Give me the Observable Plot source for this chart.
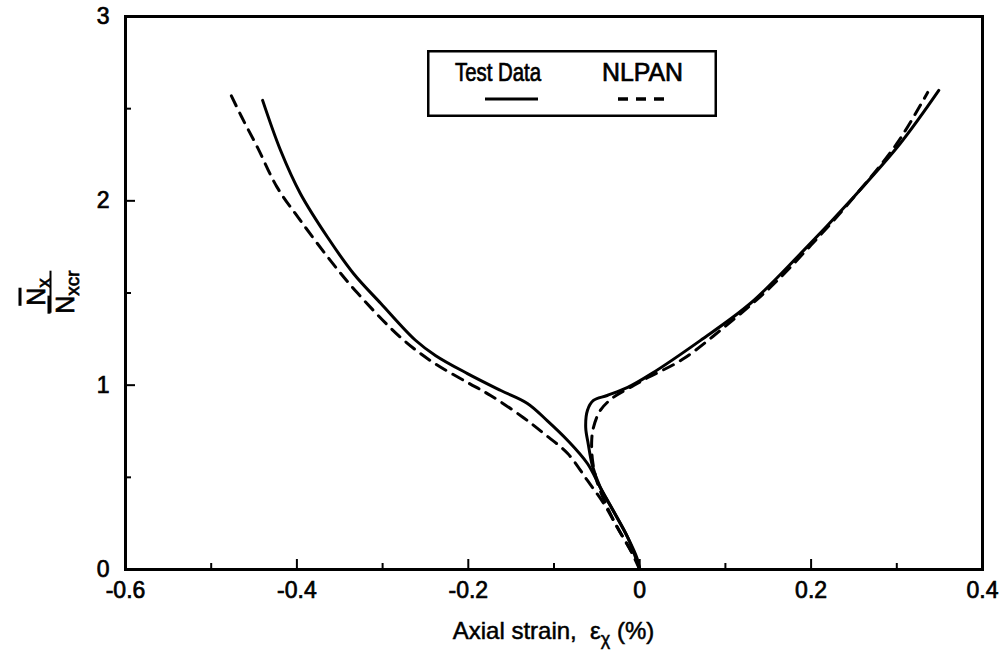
<!DOCTYPE html>
<html>
<head>
<meta charset="utf-8">
<script src="https://cdn.jsdelivr.net/npm/d3@7"></script>
<script src="https://cdn.jsdelivr.net/npm/@observablehq/plot@0.6"></script>
<style>
  body { margin: 0; background: #fff; }
  #wrap { position: relative; width: 1001px; height: 653px; font-family: "Liberation Sans", Arial, Helvetica, sans-serif; color: #000; }
  #wrap svg { display: block; }
  #wrap svg text { stroke: #000; stroke-width: 0.7px; paint-order: stroke; }
  .xlabel { position: absolute; left: 125px; width: 857px; top: 617px; text-align: center; font-size: 24px; line-height: 28px; white-space: nowrap; -webkit-text-stroke: 0.5px #000; }
  .xlabel sub { font-size: 18px; vertical-align: -6px; line-height: 0; }
  .ylabel { position: absolute; left: 50px; top: 292px; transform: translate(-50%, -50%) rotate(-90deg); font-size: 25px; line-height: 24px; -webkit-text-stroke: 0.7px #000; }
  .frac { display: inline-flex; flex-direction: column; align-items: center; }
  .frac .bar { width: 42px; border-top: 2.5px solid #000; margin: 2px 0 1px 0; }
  .ov { text-decoration: overline; text-decoration-thickness: 2.5px; }
  .ylabel sub { font-size: 19px; vertical-align: -5px; line-height: 0; }
  .legend { position: absolute; left: 427px; top: 50px; }
</style>
</head>
<body>
<div id="wrap"></div>
<script>
// ---- data ----
const testLeftX  = [0, -0.003, -0.014, -0.031, -0.046, -0.061, -0.084, -0.108, -0.131, -0.162, -0.201, -0.238, -0.262, -0.302, -0.334, -0.364, -0.396, -0.419, -0.440];
const testLeftY  = [0, 0.06, 0.174, 0.32, 0.445, 0.575, 0.70, 0.808, 0.901, 0.971, 1.063, 1.16, 1.245, 1.443, 1.606, 1.801, 2.040, 2.273, 2.545];
const testRightX = [0, -0.014, -0.031, -0.046, -0.055, -0.060, -0.063, -0.061, -0.054, -0.038, -0.014, 0.013, 0.071, 0.129, 0.188, 0.246, 0.304, 0.349];
const testRightY = [0, 0.174, 0.32, 0.445, 0.56, 0.68, 0.77, 0.863, 0.917, 0.944, 0.988, 1.06, 1.243, 1.443, 1.715, 2.002, 2.311, 2.599];
const nlpanLeftX  = [0, -0.002, -0.0105, -0.026, -0.042, -0.061, -0.084, -0.112, -0.136, -0.174, -0.201, -0.241, -0.279, -0.329, -0.361, -0.396, -0.423, -0.446, -0.465, -0.478];
const nlpanLeftY  = [0, 0.033, 0.103, 0.228, 0.358, 0.483, 0.629, 0.738, 0.825, 0.944, 1.015, 1.123, 1.259, 1.498, 1.677, 1.894, 2.073, 2.290, 2.46, 2.585];
const nlpanRightX = [0, -0.0105, -0.026, -0.040, -0.050, -0.055, -0.056, -0.054, -0.046, -0.031, -0.007, 0.009, 0.05, 0.10, 0.15, 0.20, 0.25, 0.30, 0.336];
const nlpanRightY = [0, 0.103, 0.228, 0.36, 0.48, 0.59, 0.70, 0.77, 0.863, 0.933, 0.998, 1.04, 1.14, 1.32, 1.52, 1.76, 2.02, 2.31, 2.588];

const xMajorTicks = [-0.6, -0.4, -0.2, 0, 0.2, 0.4];
const xMinorTicks = [-0.5, -0.3, -0.1, 0.1, 0.3];
const xTickLabels = ["-0.6", "-0.4", "-0.2", "0", "0.2", "0.4"];
const yMajorTicks = [0, 1, 2, 3];
const yMinorTicks = [0.5, 1.5, 2.5];
const yTickLabels = ["0", "1", "2", "3"];
const seriesNames = ["Test Data", "NLPAN"];

// ---- build table ----
const rows = [];
function add(series, branch, xs, ys) { xs.forEach((x, i) => rows.push({series, branch, x, y: ys[i]})); }
add(seriesNames[0], "left", testLeftX, testLeftY);
add(seriesNames[0], "right", testRightX, testRightY);
add(seriesNames[1], "left", nlpanLeftX, nlpanLeftY);
add(seriesNames[1], "right", nlpanRightX, nlpanRightY);

const font = "Liberation Sans, Arial, Helvetica, sans-serif";
const xFmt = d => xTickLabels[xMajorTicks.indexOf(d)];
const yFmt = d => yTickLabels[yMajorTicks.indexOf(d)];

const W = 1001, H = 653, mL = 125, mR = 19, mT = 16, mB = 84;
const innerW = W - mL - mR, innerH = H - mT - mB;
const majorLen = 10, minorLen = 6;

const plot = Plot.plot({
  width: W, height: H,
  marginLeft: mL, marginRight: mR, marginTop: mT, marginBottom: mB,
  style: {fontFamily: font, fontSize: "23px", color: "#000", background: "#fff"},
  x: {domain: [-0.6, 0.4], label: null},
  y: {domain: [0, 3], label: null},
  marks: [
    Plot.axisX(xMajorTicks, {tickSize: 0, tickPadding: 12, tickFormat: xFmt, fontSize: 23, label: null}),
    Plot.axisY(yMajorTicks, {tickSize: 0, tickPadding: 16, tickFormat: yFmt, fontSize: 23, label: null}),
    // inward tick marks
    Plot.tickX(xMajorTicks, {x: d => d, insetTop: innerH - majorLen, stroke: "#000", strokeWidth: 2}),
    Plot.tickX(xMinorTicks, {x: d => d, insetTop: innerH - minorLen, stroke: "#000", strokeWidth: 2}),
    Plot.tickY(yMajorTicks, {y: d => d, insetRight: innerW - majorLen, stroke: "#000", strokeWidth: 2}),
    Plot.tickY(yMinorTicks, {y: d => d, insetRight: innerW - minorLen, stroke: "#000", strokeWidth: 2}),
    Plot.line(rows.filter(d => d.series === seriesNames[0]), {x: "x", y: "y", z: "branch", curve: "catmull-rom", stroke: "#000", strokeWidth: 3}),
    Plot.line(rows.filter(d => d.series === seriesNames[1]), {x: "x", y: "y", z: "branch", curve: "catmull-rom", stroke: "#000", strokeWidth: 3, strokeDasharray: "11,8"}),
    Plot.frame({stroke: "#000", strokeWidth: 3})
  ]
});

const wrap = document.getElementById("wrap");
wrap.appendChild(plot);

// axis labels
const xl = document.createElement("div");
xl.className = "xlabel";
xl.innerHTML = "Axial strain,&nbsp; ε<sub>χ</sub> (%)";
wrap.appendChild(xl);

const yl = document.createElement("div");
yl.className = "ylabel";
yl.innerHTML = '<span class="frac"><span><span class="ov">N</span><sub>x</sub></span><span class="bar"></span><span><span class="ov">N</span><sub>xcr</sub></span></span>';
wrap.appendChild(yl);

// legend box
const lg = document.createElement("div");
lg.className = "legend";
lg.innerHTML = `<svg width="290" height="67" xmlns="http://www.w3.org/2000/svg" style="font-family:${font}">
  <rect x="1.25" y="1.25" width="287.5" height="64.5" fill="#fff" stroke="#000" stroke-width="2.5"/>
  <text x="28" y="31" font-size="25" textLength="86" lengthAdjust="spacingAndGlyphs">${seriesNames[0]}</text>
  <line x1="58" x2="111" y1="49" y2="49" stroke="#000" stroke-width="3"/>
  <text x="175" y="31" font-size="25" textLength="81" lengthAdjust="spacingAndGlyphs">${seriesNames[1]}</text>
  <line x1="191" x2="241" y1="49" y2="49" stroke="#000" stroke-width="3.5" stroke-dasharray="10,8"/>
</svg>`;
wrap.appendChild(lg);
</script>
</body>
</html>
